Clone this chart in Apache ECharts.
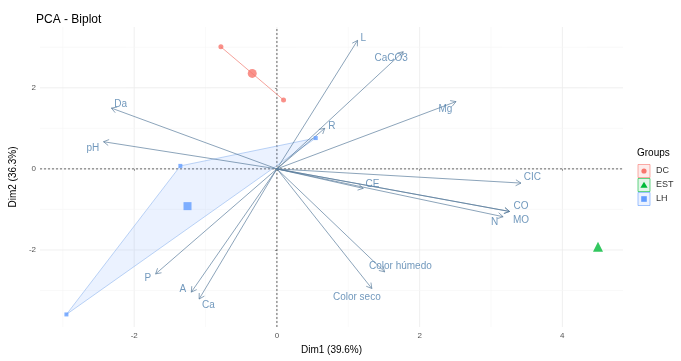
<!DOCTYPE html>
<html>
<head>
<meta charset="utf-8">
<script src="https://cdn.jsdelivr.net/npm/echarts@6/dist/echarts.min.js"></script>
<style>
html,body{margin:0;padding:0;background:#fff}
#chart{width:681px;height:361px}
</style>
</head>
<body>
<div id="chart"></div>
<script>
// variables (arrow ends) and where the repelled labels sit
var varNames = ['L','CaCO3','Mg','R','Da','pH','CIC','CE','CO','MO','N','Color húmedo','Color seco','P','A','Ca'];
var varX = [1.13, 1.77, 2.51, 0.67, -2.32, -2.43, 3.42, 1.21, 3.26, 3.26, 3.17, 1.51, 1.33, -1.70, -1.20, -1.09];
var varY = [3.17, 2.89, 1.66, 1.00, 1.50, 0.67, -0.35, -0.48, -1.05, -1.05, -1.18, -2.54, -2.95, -2.59, -3.04, -3.21];
var labelX = [1.21, 1.60, 2.36, 0.77, -2.19, -2.58, 3.58, 1.34, 3.42, 3.42, 3.05, 1.73, 1.12, -1.81, -1.32, -0.96];
var labelY = [3.23, 2.74, 1.48, 1.06, 1.60, 0.52, -0.20, -0.37, -0.91, -1.26, -1.31, -2.40, -3.16, -2.69, -2.96, -3.36];

// individuals per group
var dcX = [-0.785, 0.093];
var dcY = [3.01, 1.70];
var estX = [4.50];
var estY = [-1.92];
var lhX = [-1.353, 0.544, -2.95];
var lhY = [0.074, 0.76, -3.59];

var groupNames = ['DC', 'EST', 'LH'];
var groupColors = ['#F8766D', '#00BA38', '#619CFF'];

var xTicks = [-2, 0, 2, 4];
var yTicks = [-2, 0, 2];
var xGrid = [-3, -2, -1, 0, 1, 2, 3, 4];
var yGrid = [-3, -2, -1, 0, 1, 2, 3];
var xMin = -3.32, xMax = 4.85, yMin = -3.9, yMax = 3.5;

var font = 'Liberation Sans, Arial, sans-serif';

function mean(a) {
    var s = 0;
    for (var i = 0; i < a.length; i++) s += a[i];
    return s / a.length;
}
function pairs(xs, ys) {
    var out = [];
    for (var i = 0; i < xs.length; i++) out.push([xs[i], ys[i]]);
    return out;
}

var gridData = [];
for (var i = 0; i < xGrid.length; i++) gridData.push([xGrid[i], 0, 0]);
for (var j = 0; j < yGrid.length; j++) gridData.push([0, yGrid[j], 1]);

var arrowData = [];
for (var k = 0; k < varNames.length; k++) arrowData.push([varX[k], varY[k]]);
var labelData = [];
for (var m = 0; m < varNames.length; m++) labelData.push({name: varNames[m], value: [labelX[m], labelY[m]]});

var chart = echarts.init(document.getElementById('chart'));

var option = {
    animation: false,
    textStyle: {fontFamily: font},
    title: {
        text: 'PCA - Biplot',
        left: 31, top: 9,
        textStyle: {fontSize: 12, fontWeight: 'normal', color: '#000', fontFamily: font}
    },
    grid: {left: 37, right: 58, top: 27, bottom: 34},
    xAxis: {
        type: 'value', min: xMin, max: xMax,
        name: 'Dim1 (39.6%)', nameLocation: 'middle', nameGap: 14,
        nameTextStyle: {fontSize: 10, color: '#000'},
        axisLine: {show: false},
        axisTick: {show: true, customValues: xTicks, length: 2, lineStyle: {color: '#999'}},
        axisLabel: {customValues: xTicks, fontSize: 8, color: '#555', margin: 5},
        splitLine: {show: false}
    },
    yAxis: {
        type: 'value', min: yMin, max: yMax,
        name: 'Dim2 (36.3%)', nameLocation: 'middle', nameGap: 12,
        nameTextStyle: {fontSize: 10, color: '#000'},
        axisLine: {show: false},
        axisTick: {show: true, customValues: yTicks, length: 2, lineStyle: {color: '#999'}},
        axisLabel: {customValues: yTicks, fontSize: 8, color: '#555', margin: 4},
        splitLine: {show: false}
    },
    graphic: [
        {type: 'text', left: 637, top: 148, style: {text: 'Groups', fontSize: 10, fill: '#000', fontFamily: font}}
    ],
    series: [
        {
            // panel grid + zero reference lines
            type: 'custom', silent: true, z: 0,
            data: gridData,
            renderItem: function (params, api) {
                var horiz = api.value(2) === 1;
                var v = horiz ? api.value(1) : api.value(0);
                var a, b;
                if (horiz) { a = api.coord([xMin, v]); b = api.coord([xMax, v]); }
                else { a = api.coord([v, yMin]); b = api.coord([v, yMax]); }
                var major = (v % 2 === 0);
                var children = [{
                    type: 'line',
                    shape: {x1: a[0], y1: a[1], x2: b[0], y2: b[1]},
                    style: {stroke: major ? '#ebebeb' : '#f5f5f5', lineWidth: major ? 0.8 : 0.6}
                }];
                if (v === 0) {
                    children.push({
                        type: 'line',
                        shape: {x1: a[0], y1: a[1], x2: b[0], y2: b[1]},
                        style: {stroke: '#444', lineWidth: 0.8, lineDash: [2, 2]},
                        z2: 5
                    });
                }
                return {type: 'group', children: children};
            }
        },
        {
            // LH hull
            type: 'custom', silent: true, z: 1,
            data: [[0, 0]],
            renderItem: function (params, api) {
                var pts = [];
                for (var i = 0; i < lhX.length; i++) pts.push(api.coord([lhX[i], lhY[i]]));
                var dc = [];
                for (var j = 0; j < dcX.length; j++) dc.push(api.coord([dcX[j], dcY[j]]));
                return {type: 'group', children: [
                    {type: 'polygon', shape: {points: pts},
                        style: {fill: 'rgba(97,156,255,0.13)', stroke: '#8fb5ee', lineWidth: 0.6}},
                    {type: 'polyline', shape: {points: dc},
                        style: {fill: null, stroke: '#F28a82', lineWidth: 0.8}}
                ]};
            }
        },
        {
            // variable arrows
            type: 'custom', silent: true, z: 3,
            data: arrowData,
            renderItem: function (params, api) {
                var p0 = api.coord([0, 0]);
                var p1 = api.coord([api.value(0), api.value(1)]);
                var ang = Math.atan2(p1[1] - p0[1], p1[0] - p0[0]);
                var len = 6, spread = Math.PI / 6;
                var h1 = [p1[0] - len * Math.cos(ang - spread), p1[1] - len * Math.sin(ang - spread)];
                var h2 = [p1[0] - len * Math.cos(ang + spread), p1[1] - len * Math.sin(ang + spread)];
                var st = {stroke: '#5a7d9c', lineWidth: 0.7, fill: null};
                return {type: 'group', children: [
                    {type: 'line', shape: {x1: p0[0], y1: p0[1], x2: p1[0], y2: p1[1]}, style: st},
                    {type: 'polyline', shape: {points: [h1, p1, h2]}, style: st}
                ]};
            }
        },
        {
            type: 'scatter', silent: true, z: 4,
            symbolSize: 0,
            data: labelData,
            label: {show: true, position: 'inside', formatter: '{b}', fontSize: 10, color: '#4f80ac', fontFamily: font}
        },
        {
            name: 'DC', type: 'scatter', z: 5, symbol: 'circle', symbolSize: 5,
            itemStyle: {color: groupColors[0]},
            data: pairs(dcX, dcY)
        },
        {
            name: 'DC', type: 'scatter', z: 5, symbol: 'circle', symbolSize: 9,
            itemStyle: {color: groupColors[0]},
            data: [[mean(dcX), mean(dcY)]]
        },
        {
            name: 'EST', type: 'scatter', z: 5, symbol: 'triangle', symbolSize: 10,
            itemStyle: {color: groupColors[1]},
            data: [[mean(estX), mean(estY)]]
        },
        {
            name: 'LH', type: 'scatter', z: 5, symbol: 'rect', symbolSize: 4,
            itemStyle: {color: groupColors[2]},
            data: pairs(lhX, lhY)
        },
        {
            name: 'LH', type: 'scatter', z: 5, symbol: 'rect', symbolSize: 8,
            itemStyle: {color: groupColors[2]},
            data: [[mean(lhX), mean(lhY)]]
        }
    ]
};

// legend keys drawn as ggplot-style boxes
var keyFill = ['#fdeceb', '#e3f6e9', '#ebf2ff'];
var keySym = ['circle', 'triangle', 'rect'];
for (var g = 0; g < groupNames.length; g++) {
    var cy = 171 + g * 14;
    option.graphic.push({type: 'rect', shape: {x: 638, y: cy - 6.5, width: 12, height: 13},
        style: {fill: keyFill[g], stroke: groupColors[g], lineWidth: 0.6}});
    var sym;
    if (g === 0) sym = {type: 'circle', shape: {cx: 644, cy: cy, r: 2.6}, style: {fill: groupColors[g]}};
    else if (g === 1) sym = {type: 'polygon', shape: {points: [[644, cy - 3.2], [647.6, cy + 2.8], [640.4, cy + 2.8]]}, style: {fill: groupColors[g]}};
    else sym = {type: 'rect', shape: {x: 641.2, y: cy - 2.8, width: 5.6, height: 5.6}, style: {fill: groupColors[g]}};
    option.graphic.push(sym);
    option.graphic.push({type: 'text', x: 656, y: cy, style: {text: groupNames[g], fontSize: 9, fill: '#333', fontFamily: font, verticalAlign: 'middle'}});
}

chart.setOption(option);
</script>
</body>
</html>
